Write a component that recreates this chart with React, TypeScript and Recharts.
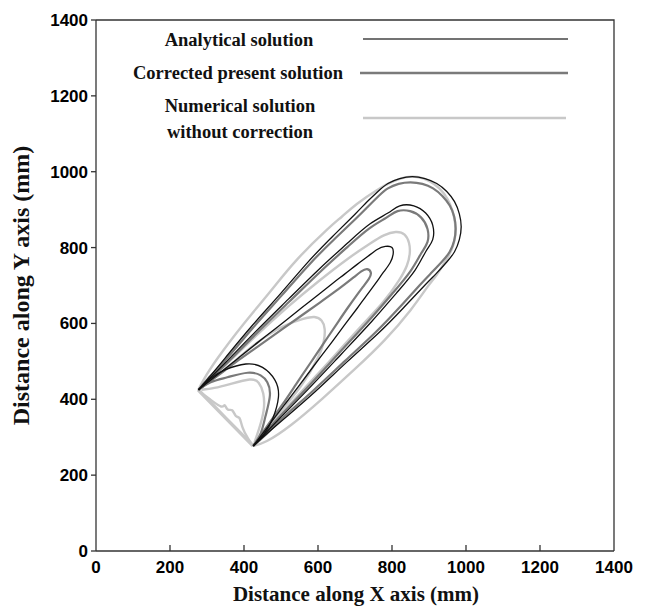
import { Line, LineChart, XAxis, YAxis } from "recharts";

const X_TICKS = [0, 200, 400, 600, 800, 1000, 1200, 1400];
const Y_TICKS = [0, 200, 400, 600, 800, 1000, 1200, 1400];

// Analytical solution (thin black)
const ANA_OUTER: [number, number][] = [
  [277, 425], [305, 457], [350, 510], [420, 592], [500, 680], [574, 763], [640, 830],
  [700, 888], [732, 920], [762, 948], [789, 969], [821, 982], [855, 987], [889, 982],
  [921, 969], [948, 948], [969, 921], [982, 889], [987, 855], [982, 821], [969, 789],
  [948, 762], [920, 732], [888, 700], [830, 640], [763, 574], [680, 500], [592, 420],
  [510, 350], [457, 305], [425, 277],
];
const ANA_SECOND: [number, number][] = [
  [277, 425], [350, 497], [430, 577], [520, 664], [605, 745], [680, 812], [740, 862],
  [789, 891], [821, 910], [859, 910], [891, 891], [910, 859], [910, 821], [891, 789],
  [862, 740], [812, 680], [745, 605], [664, 520], [577, 430], [497, 350], [425, 277],
];
const ANA_THIRD: [number, number][] = [
  [277, 425], [330, 466], [385, 509], [440, 552], [495, 594], [550, 637], [600, 675],
  [640, 706], [672, 730], [705, 755], [735, 777], [760, 795], [782, 803], [800, 800],
  [803, 782], [795, 760], [777, 735], [755, 705], [730, 672], [706, 640], [675, 600],
  [637, 550], [594, 495], [552, 440], [509, 385], [466, 330], [425, 277],
];
const ANA_ARCH: [number, number][] = [
  [277, 425], [310, 455], [350, 478], [405, 493], [450, 484], [484, 450], [493, 405],
  [478, 350], [455, 310], [425, 277],
];

// Corrected present solution (dark grey)
const COR_OUTER: [number, number][] = [
  [277, 425], [303, 455], [352, 506], [422, 586], [502, 674], [576, 755], [642, 820],
  [702, 876], [734, 907], [764, 936], [789, 956], [818, 968], [850, 972], [882, 968],
  [911, 956], [936, 936], [956, 911], [968, 882], [972, 850], [968, 818], [956, 789],
  [936, 764], [907, 734], [876, 702], [820, 642], [755, 576], [674, 502], [586, 422],
  [506, 352], [455, 303], [425, 277],
];
const COR_SECOND: [number, number][] = [
  [277, 425], [352, 494], [432, 572], [522, 657], [607, 737], [680, 802], [738, 850],
  [785, 879], [815, 896], [849, 896], [879, 879], [896, 849], [896, 815], [879, 785],
  [850, 738], [802, 680], [737, 607], [657, 522], [572, 432], [494, 352], [425, 277],
];
const COR_THIRD: [number, number][] = [
  [277, 425], [330, 463], [385, 503], [440, 541], [495, 579], [550, 617], [605, 655],
  [642, 681], [672, 703], [697, 722], [717, 737], [733, 743], [743, 733], [737, 717],
  [722, 697], [703, 672], [681, 642], [655, 605], [617, 550], [579, 495], [541, 440],
  [503, 385], [463, 330], [425, 277],
];
const COR_ARCH: [number, number][] = [
  [277, 425], [310, 445], [355, 458], [410, 470], [445, 463], [463, 445], [470, 410],
  [458, 355], [445, 310], [425, 277],
];

// Numerical solution without correction (light grey)
const NUM_OUTER: [number, number][] = [
  [277, 425], [290, 450], [330, 510], [400, 600], [470, 683], [542, 767], [623, 846],
  [665, 882], [705, 915], [760, 952], [800, 973], [835, 985], [868, 986], [900, 976],
  [928, 956], [950, 928], [964, 895], [971, 860], [970, 825], [960, 792], [942, 760],
  [920, 727], [895, 695], [850, 635], [780, 556], [700, 480], [612, 402], [528, 333],
  [462, 290], [425, 277],
];
const NUM_SECOND: [number, number][] = [
  [277, 425], [350, 490], [430, 565], [520, 645], [600, 710], [680, 770], [740, 810],
  [778, 832], [810, 841], [834, 834], [846, 812], [848, 785], [840, 752], [818, 712],
  [775, 655], [712, 588], [645, 515], [565, 430], [490, 350], [425, 277],
];
const NUM_THIRD: [number, number][] = [
  [277, 425], [350, 480], [430, 545], [505, 592], [560, 612], [590, 617], [610, 607],
  [618, 585], [616, 555], [600, 510], [552, 432], [483, 350], [425, 277],
];
const NUM_ARCH: [number, number][] = [
  [285, 425], [320, 430], [362, 440], [415, 452], [440, 443], [452, 415], [453, 370],
  [440, 320], [428, 285],
];
const NUM_BASE: [number, number][] = [[276, 425], [350, 351], [425, 277]];
const NUM_BASE_JAG: [number, number][] = [
  [280, 420], [308, 400], [338, 381], [348, 384], [356, 373], [368, 371], [378, 356],
  [388, 350], [396, 326], [410, 298], [422, 280],
];

const AXIS = "#333";
const BLACK = "#111";
const DARK = "#7a7a7a";
const LIGHT = "#c8c8c8";

const SERIES = [
  ...[NUM_OUTER, NUM_SECOND, NUM_THIRD, NUM_ARCH, NUM_BASE_JAG].map((c) => ({ c, color: LIGHT, w: 2.4 })),
  { c: NUM_BASE, color: LIGHT, w: 3.5 },
  ...[COR_OUTER, COR_SECOND, COR_THIRD, COR_ARCH].map((c) => ({ c, color: DARK, w: 2.2 })),
  ...[ANA_OUTER, ANA_SECOND, ANA_THIRD, ANA_ARCH].map((c) => ({ c, color: BLACK, w: 1.3 })),
];

const toPts = (c: [number, number][]) => c.map(([x, y]) => ({ x, y }));

const TICK_FONT = { fontFamily: "Liberation Sans", fontWeight: 700, fontSize: 17, fill: "#000" };
const SERIF = { fontFamily: "Liberation Serif", fontWeight: 700, fill: "#111" };

function XTick(props: any) {
  const { x, y, payload } = props;
  const v = payload.value;
  return (
    <g>
      {v > 0 && v < 1400 && <line x1={x} x2={x} y1={y} y2={y - 6} stroke={AXIS} strokeWidth={1.3} />}
      <text x={x} y={y + 21.5} textAnchor="middle" style={TICK_FONT}>
        {v}
      </text>
    </g>
  );
}

export default function App() {
  return (
    <div style={{ position: "absolute", left: 0, top: 0, width: 650, height: 606, background: "#fff" }}>
      <LineChart width={650} height={606} margin={{ top: 20, right: 36, bottom: 0, left: 0 }}>
        <XAxis
          type="number"
          dataKey="x"
          domain={[0, 1400]}
          ticks={X_TICKS}
          allowDataOverflow
          height={55}
          tickSize={0}
          tickMargin={0}
          tickLine={false}
          tick={<XTick />}
          axisLine={{ stroke: AXIS, strokeWidth: 1.3 }}
        />
        <YAxis
          type="number"
          domain={[0, 1400]}
          ticks={Y_TICKS}
          allowDataOverflow
          width={96}
          tickSize={5}
          tickMargin={3}
          tick={TICK_FONT}
          tickLine={{ stroke: AXIS, strokeWidth: 1.3 }}
          axisLine={{ stroke: AXIS, strokeWidth: 1.3 }}
        />
        {SERIES.map((s, i) => (
          <Line
            key={i}
            data={toPts(s.c)}
            dataKey="y"
            type="natural"
            stroke={s.color}
            strokeWidth={s.w}
            dot={false}
            activeDot={false}
            isAnimationActive={false}
          />
        ))}
      </LineChart>
      <svg width={650} height={606} style={{ position: "absolute", left: 0, top: 0, pointerEvents: "none" }}>
        <polyline points="96,20 614,20 614,551" fill="none" stroke={AXIS} strokeWidth={1.3} />
        <text x={239} y={40} textAnchor="middle" dominantBaseline="central" style={{ ...SERIF, fontSize: 18.5 }}>
          Analytical solution
        </text>
        <line x1={363} x2={568} y1={39} y2={39} stroke="#444" strokeWidth={1.3} />
        <text x={238} y={73} textAnchor="middle" dominantBaseline="central" style={{ ...SERIF, fontSize: 18.5 }}>
          Corrected present solution
        </text>
        <line x1={360} x2={568} y1={73} y2={73} stroke={DARK} strokeWidth={2.5} />
        <text x={240} y={106} textAnchor="middle" dominantBaseline="central" style={{ ...SERIF, fontSize: 18.5 }}>
          Numerical solution
        </text>
        <text x={240} y={132} textAnchor="middle" dominantBaseline="central" style={{ ...SERIF, fontSize: 18.5 }}>
          without correction
        </text>
        <line x1={363} x2={566} y1={118} y2={118} stroke={LIGHT} strokeWidth={2.5} />
        <text x={356} y={601} textAnchor="middle" style={{ ...SERIF, fontSize: 21 }}>
          Distance along X axis (mm)
        </text>
        <text
          x={29}
          y={285.5}
          textAnchor="middle"
          transform="rotate(-90 29 285.5)"
          style={{ ...SERIF, fontSize: 24 }}
        >
          Distance along Y axis (mm)
        </text>
      </svg>
    </div>
  );
}
